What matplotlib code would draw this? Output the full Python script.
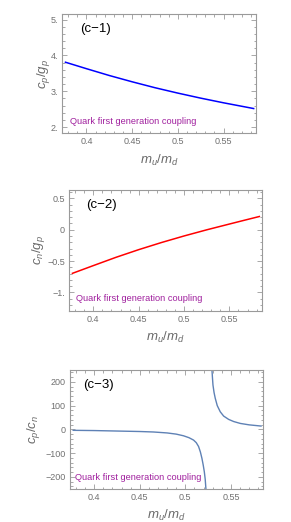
#!/usr/bin/env python3

import matplotlib
matplotlib.use('Agg')
import matplotlib.pyplot as plt
from matplotlib.ticker import MultipleLocator

plt.rcParams['font.family'] = ['Liberation Sans', 'DejaVu Sans']
plt.rcParams['mathtext.fontset'] = 'custom'
plt.rcParams['mathtext.rm'] = 'Liberation Sans'
plt.rcParams['mathtext.it'] = 'Liberation Sans:italic'

# values
x_c1 = [0.377, 0.40, 0.425, 0.45, 0.475, 0.50, 0.525, 0.55, 0.583]
cp_gp = [3.81, 3.63, 3.44, 3.265, 3.10, 2.95, 2.81, 2.68, 2.52]

x_c2 = [0.377, 0.40, 0.425, 0.45, 0.475, 0.50, 0.525, 0.55, 0.565, 0.583]
cn_gp = [-0.695, -0.572, -0.44, -0.318, -0.205, -0.10, -0.002, 0.09, 0.145, 0.21]

# c_p/c_n, split at the pole
x_c3_low = [0.377, 0.40, 0.425, 0.45, 0.465, 0.48, 0.49, 0.498, 0.504, 0.509,
            0.512, 0.5145, 0.5165, 0.5182, 0.5196, 0.5208, 0.5218, 0.5228]
cp_cn_low = [-4, -5, -7, -9, -11, -15, -20, -27, -35, -45,
             -56, -72, -95, -122, -150, -178, -210, -262]
x_c3_up = [0.5290, 0.5297, 0.5303, 0.5315, 0.5328, 0.5350, 0.5383, 0.5420,
           0.5475, 0.5530, 0.5603, 0.5700, 0.5830]
cp_cn_up = [262, 220, 187, 155, 131, 100, 74, 56, 42, 33, 25, 19, 14]

x_ticks = [0.4, 0.45, 0.5, 0.55]
x_tick_labels = ['0.4', '0.45', '0.5', '0.55']
y1_ticks = [2, 3, 4, 5]
y1_tick_labels = ['2.', '3.', '4.', '5.']
y2_ticks = [-1, -0.5, 0, 0.5]
y2_tick_labels = ['\u22121.', '\u22120.5', '0', '0.5']
y3_ticks = [-200, -100, 0, 100, 200]
y3_tick_labels = ['\u2212200', '\u2212100', '0', '100', '200']

FRAME = '#9a9a9a'
TICKTXT = '#707070'
LABEL = '#6a6a6a'
NOTE = '#a0209e'


def style_axes(ax, yticks, ylabels, yminor, ylim, ylabel, ylabel_x, panel, note_x, tag_x):
    ax.set_xlim(0.3735, 0.5855)
    ax.set_ylim(*ylim)
    ax.set_xticks(x_ticks, x_tick_labels)
    ax.set_yticks(yticks, ylabels)
    ax.xaxis.set_minor_locator(MultipleLocator(0.01))
    ax.yaxis.set_minor_locator(MultipleLocator(yminor))
    for s in ax.spines.values():
        s.set_color(FRAME)
        s.set_linewidth(0.8)
    ax.tick_params(which='both', direction='in', top=True, right=True,
                   color=FRAME, labelcolor=TICKTXT, labelsize=6.5, width=0.6)
    ax.tick_params(which='major', length=3.5, pad=3)
    ax.tick_params(which='minor', length=1.8)
    ax.set_xlabel('$m_u/m_d$', fontsize=9.5, color=LABEL, va='center')
    ax.xaxis.set_label_coords(0.5, -0.225)
    ax.set_ylabel(ylabel, fontsize=9.5, color=LABEL, va='center')
    ax.yaxis.set_label_coords(ylabel_x, 0.5)
    ax.text(tag_x, 0.875, panel, transform=ax.transAxes, fontsize=9.5,
            color='black', ha='left', va='center')
    ax.text(note_x, 0.10, 'Quark first generation coupling', transform=ax.transAxes,
            fontsize=6.7, color=NOTE, ha='left', va='center')


fig = plt.figure(figsize=(2.91, 5.22), dpi=100)

ax1 = fig.add_axes([0.214, 0.7446, 0.6656, 0.228])
ax1.plot(x_c1, cp_gp, color='#0000ff', lw=1.1)
style_axes(ax1, y1_ticks, y1_tick_labels, 0.2, (1.83, 5.145), '$c_p/g_p$', -0.095,
           '(c\u22121)', 0.04, 0.09)

ax2 = fig.add_axes([0.238, 0.4048, 0.661, 0.2312])
ax2.plot(x_c2, cn_gp, color='#ff0000', lw=1.1)
style_axes(ax2, y2_ticks, y2_tick_labels, 0.1, (-1.29, 0.632), '$c_n/g_p$', -0.16,
           '(c\u22122)', 0.035, 0.087)

ax3 = fig.add_axes([0.2405, 0.0632, 0.6643, 0.2285])
ax3.plot(x_c3_low, cp_cn_low, color='#5e81b5', lw=1.0)
ax3.plot(x_c3_up, cp_cn_up, color='#5e81b5', lw=1.0)
style_axes(ax3, y3_ticks, y3_tick_labels, 20, (-251, 251), '$c_p/c_n$', -0.19,
           '(c\u22123)', 0.026, 0.07)

fig.savefig('out.png', dpi=100)
